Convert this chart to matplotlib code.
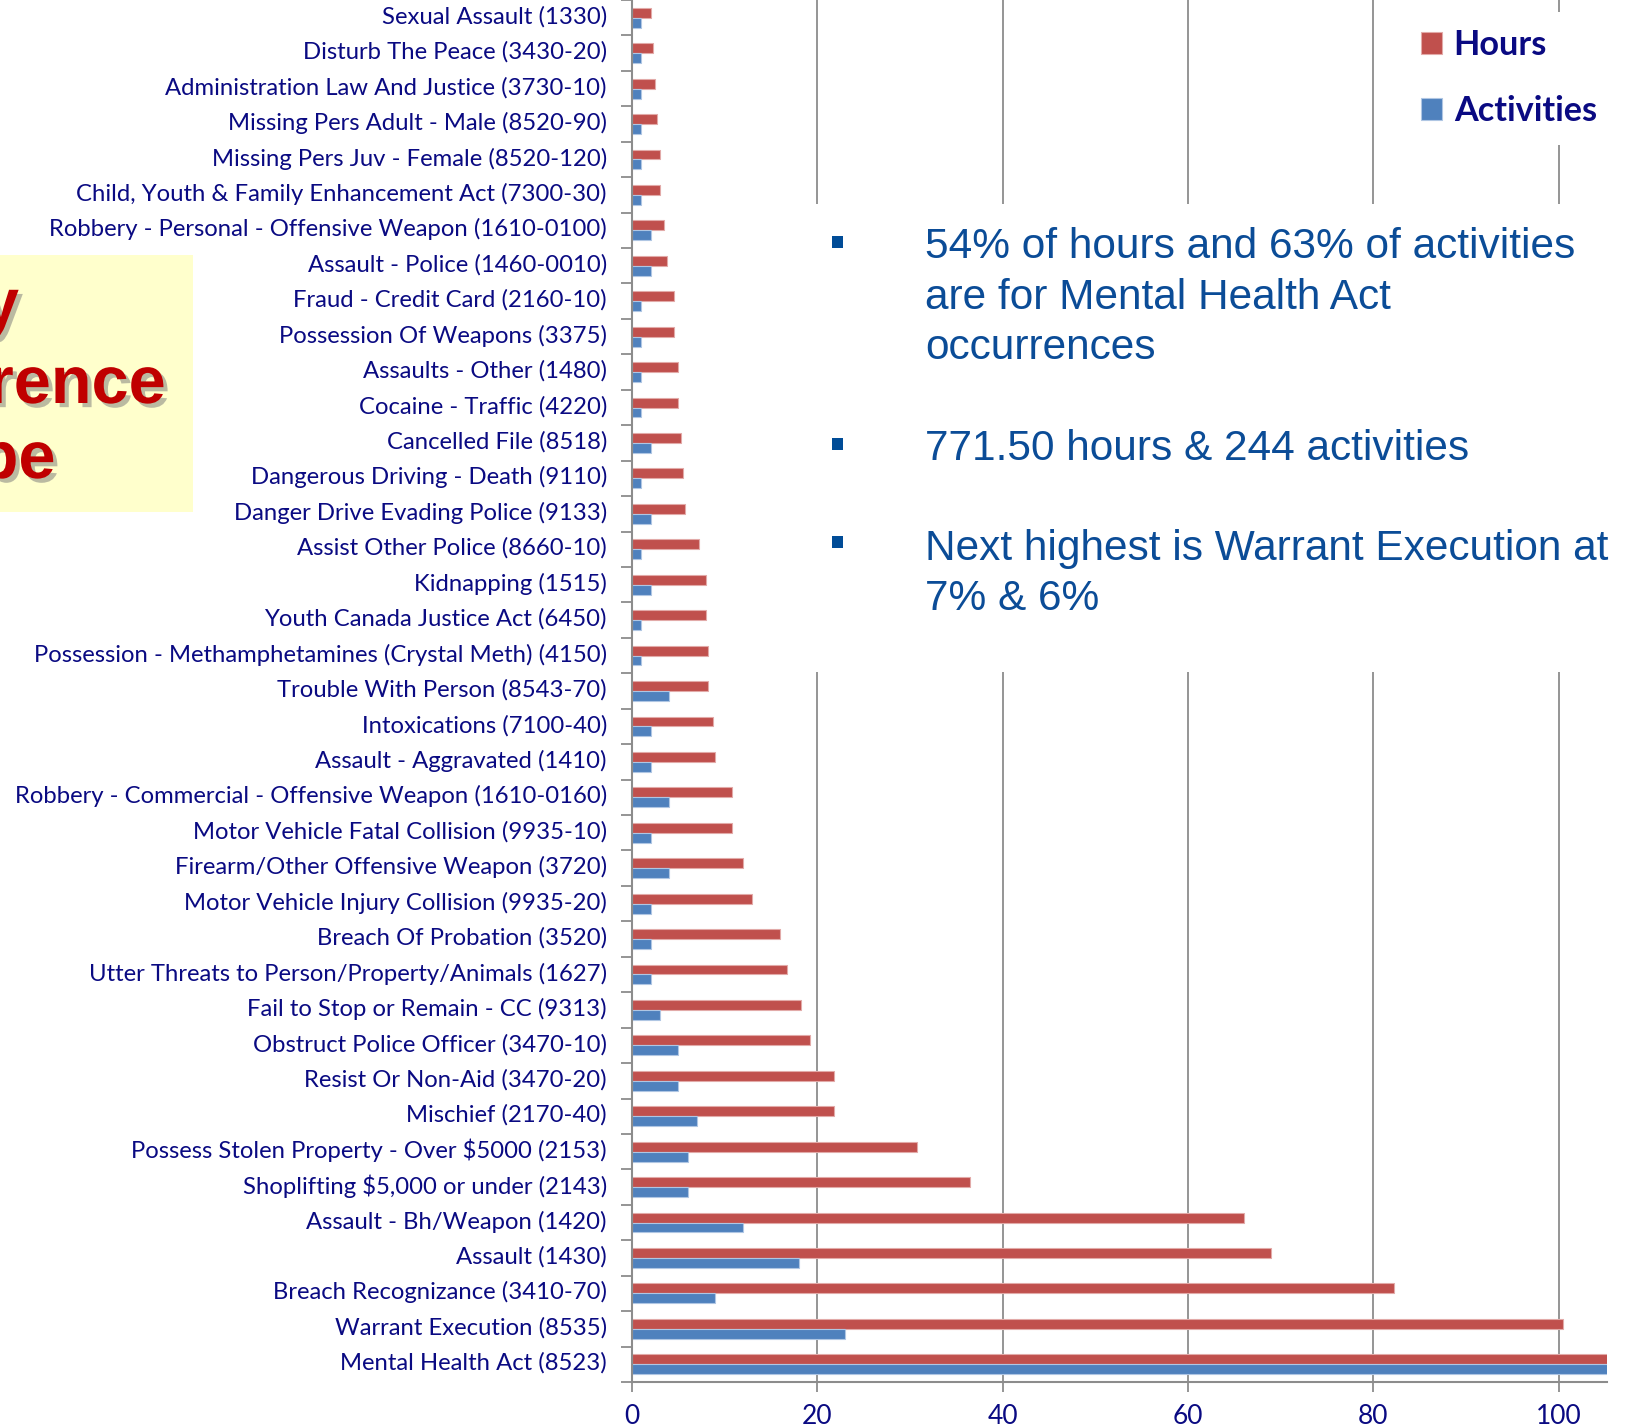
"""
plot.py — Horas y actividades por tipo de ocurrencia
"""

import numpy as np
import matplotlib
matplotlib.use("Agg")
import matplotlib.pyplot as plt
from matplotlib.patches import Rectangle
from matplotlib.transforms import ScaledTranslation
import matplotlib.patheffects as pe

# ─────────────────────────────────────────────────────────
#  Datos (de arriba hacia abajo, como en el gráfico)
# ─────────────────────────────────────────────────────────
categories = [
    "Sexual Assault (1330)",
    "Disturb The Peace (3430-20)",
    "Administration Law And Justice (3730-10)",
    "Missing Pers Adult - Male (8520-90)",
    "Missing Pers Juv - Female (8520-120)",
    "Child, Youth & Family Enhancement Act (7300-30)",
    "Robbery - Personal - Offensive Weapon (1610-0100)",
    "Assault - Police (1460-0010)",
    "Fraud - Credit Card (2160-10)",
    "Possession Of Weapons (3375)",
    "Assaults - Other (1480)",
    "Cocaine - Traffic (4220)",
    "Cancelled File (8518)",
    "Dangerous Driving - Death (9110)",
    "Danger Drive Evading Police (9133)",
    "Assist Other Police (8660-10)",
    "Kidnapping (1515)",
    "Youth Canada Justice Act (6450)",
    "Possession - Methamphetamines (Crystal Meth) (4150)",
    "Trouble With Person (8543-70)",
    "Intoxications (7100-40)",
    "Assault - Aggravated (1410)",
    "Robbery - Commercial - Offensive Weapon (1610-0160)",
    "Motor Vehicle Fatal Collision (9935-10)",
    "Firearm/Other Offensive Weapon (3720)",
    "Motor Vehicle Injury Collision (9935-20)",
    "Breach Of Probation (3520)",
    "Utter Threats to Person/Property/Animals (1627)",
    "Fail to Stop or Remain - CC (9313)",
    "Obstruct Police Officer (3470-10)",
    "Resist Or Non-Aid (3470-20)",
    "Mischief (2170-40)",
    "Possess Stolen Property - Over $5000 (2153)",
    "Shoplifting $5,000 or under (2143)",
    "Assault - Bh/Weapon (1420)",
    "Assault (1430)",
    "Breach Recognizance (3410-70)",
    "Warrant Execution (8535)",
    "Mental Health Act (8523)",
]

hours = [
    2.0, 2.25, 2.5, 2.75, 3.0, 3.0, 3.5, 3.75, 4.5, 4.5,
    5.0, 5.0, 5.25, 5.5, 5.75, 7.25, 8.0, 8.0, 8.25, 8.25,
    8.75, 9.0, 10.75, 10.75, 12.0, 13.0, 16.0, 16.75, 18.25, 19.25,
    21.75, 21.75, 30.75, 36.5, 66.0, 69.0, 82.25, 100.5, 416.5,
]

activities = [
    1, 1, 1, 1, 1, 1, 2, 2, 1, 1,
    1, 1, 2, 1, 2, 1, 2, 1, 1, 4,
    2, 2, 4, 2, 4, 2, 2, 2, 3, 5,
    5, 7, 6, 6, 12, 18, 9, 23, 154,
]

x_ticks = [0, 20, 40, 60, 80, 100]

bullets = [
    "54% of hours and 63% of activities\nare for Mental Health Act\noccurrences",
    "771.50 hours & 244 activities",
    "Next highest is Warrant Execution at\n7% & 6%",
]

title_lines = ["by", "Occurrence", "Type"]

# ─────────────────────────────────────────────────────────
#  Estilo
# ─────────────────────────────────────────────────────────
RED = "#C0504D"
BLUE = "#4F81BD"
NAVY = "#0A0A82"
TEXT_BLUE = "#0B4C97"
GRID = "#8C8C8C"

plt.rcParams["font.family"] = ["Lato", "DejaVu Sans"]

W, H = 1633, 1428


def fx(px):
    return px / W


def fy(py):
    return 1 - py / H


fig = plt.figure(figsize=(W / 100, H / 100), dpi=100)
ax = fig.add_axes([fx(632), fy(1382), fx(1607 - 632), 1382 / H])

# ─────────────────────────────────────────────────────────
#  Barras
# ─────────────────────────────────────────────────────────
n = len(categories)
y = np.arange(n)[::-1]
bh = 0.28

ax.barh(y + bh / 2, hours, height=bh, color=RED, edgecolor="#E2AAA8",
        linewidth=0.8, label="Hours", zorder=2)
ax.barh(y - bh / 2, activities, height=bh, color=BLUE, edgecolor="#AFC6E3",
        linewidth=0.8, label="Activities", zorder=2)

ax.set_xlim(0, 105.2)
ax.set_ylim(-0.5, 38.43)

ax.set_yticks(y)
ax.set_yticklabels(categories, fontsize=17.2, color=NAVY)
ax.set_yticks(np.arange(n + 1) - 0.5, minor=True)
ax.tick_params(axis="y", which="major", length=0, pad=18)
ax.tick_params(axis="y", which="minor", length=8, width=1.3, color=GRID)

# subir un poco las etiquetas (Lato queda algo baja)
lift = ScaledTranslation(0, 3 / 100, fig.dpi_scale_trans)
for lbl in ax.get_yticklabels():
    lbl.set_transform(lbl.get_transform() + lift)

ax.set_xticks(x_ticks)
ax.set_xticklabels([str(t) for t in x_ticks], fontsize=19, color=NAVY)
ax.tick_params(axis="x", length=7, width=1.3, color=GRID, pad=9)

ax.set_axisbelow(True)
ax.grid(axis="x", color=GRID, linewidth=1.3)
ax.grid(axis="y", visible=False)

for side in ["top", "right"]:
    ax.spines[side].set_visible(False)
for side in ["left", "bottom"]:
    ax.spines[side].set_color(GRID)
    ax.spines[side].set_linewidth(1.5)

# caja blanca detrás del texto (tapa las líneas de la grilla)
ax.add_patch(Rectangle((fx(800), fy(672)), 1 - fx(800), (672 - 204) / H,
                       transform=fig.transFigure, facecolor="white",
                       edgecolor="none", zorder=1, clip_on=False))

# ─────────────────────────────────────────────────────────
#  Leyenda
# ─────────────────────────────────────────────────────────
handles, labels = ax.get_legend_handles_labels()
leg = ax.legend(
    handles, labels,
    loc="upper left",
    bbox_to_anchor=(fx(1404), fy(12)),
    bbox_transform=fig.transFigure,
    prop={"family": ["Lato", "DejaVu Sans"], "weight": "bold", "size": 24.7},
    handlelength=0.6, handleheight=0.6, handletextpad=0.35,
    labelspacing=1.0, borderpad=0.5, borderaxespad=0,
    frameon=True, fancybox=False, framealpha=1,
    facecolor="white", edgecolor="none",
)
for t in leg.get_texts():
    t.set_color(NAVY)

# ─────────────────────────────────────────────────────────
#  Texto de viñetas
# ─────────────────────────────────────────────────────────
last_baseline = [359, 460, 610]
square_y = [242, 444, 542]
for txt, by, sy in zip(bullets, last_baseline, square_y):
    fig.text(fx(925), fy(by), txt, fontsize=30.5, color=TEXT_BLUE,
             family=["Liberation Sans", "DejaVu Sans"],
             va="baseline", ha="left", linespacing=1.335)
    fig.add_artist(Rectangle((fx(832), fy(sy + 6)), 11 / W, 12 / H,
                             transform=fig.transFigure,
                             facecolor="#004C97", edgecolor="none"))

# ─────────────────────────────────────────────────────────
#  Recuadro amarillo con título (cortado a la izquierda)
# ─────────────────────────────────────────────────────────
fig.add_artist(Rectangle((0, fy(512)), fx(193), (512 - 255) / H,
                         transform=fig.transFigure,
                         facecolor="#FFFFCC", edgecolor="none", zorder=0.5))
shadow = [pe.withSimplePatchShadow(offset=(3, -3), shadow_rgbFace="#777777",
                                   alpha=0.5)]
for line, base in zip(title_lines, [325, 403, 478]):
    fig.text(fx(-20), fy(base), line, fontsize=48, fontweight="bold",
             color="#C00000", family=["Liberation Sans", "DejaVu Sans"],
             ha="center", va="baseline", path_effects=shadow)

fig.savefig("out.png", dpi=100)
